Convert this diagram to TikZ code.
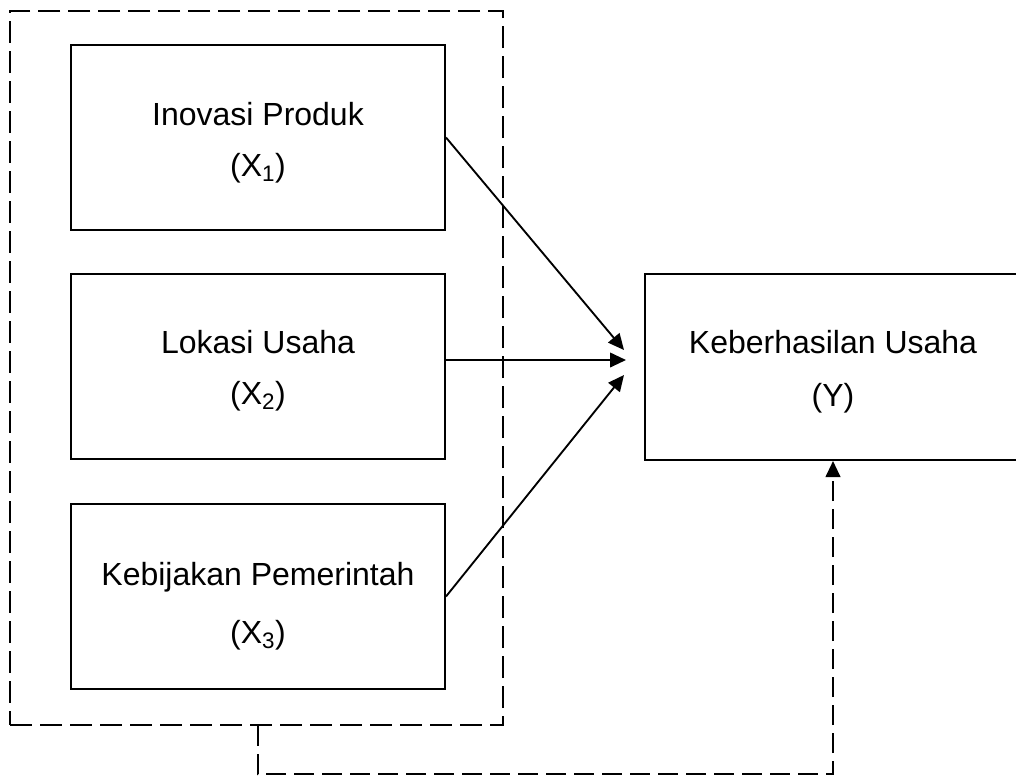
\documentclass[tikz,border=0pt]{standalone}
\usepackage{fontspec}
\setmainfont{Liberation Sans}
\usetikzlibrary{arrows.meta,calc}
\tikzset{
  varbox/.style={draw=black, line width=1.5pt, minimum width=280.5pt, minimum height=138.75pt,
    inner sep=0pt},
  varlabel/.style={align=center, inner sep=0pt, font=\fontsize{24}{#1}\selectfont},
  varlabel/.default=38pt,
  groupbox/.style={draw=black, line width=1.5pt, dash pattern=on 16.5pt off 6pt,
    minimum width=369.75pt, minimum height=535.5pt, inner sep=0pt},
  conn/.style={line width=1.4pt, -{Triangle[length=12pt,width=11pt]}},
  dashconn/.style={line width=1.5pt, dash pattern=on 15pt off 6pt, -{Triangle[length=12pt,width=11pt]}}
}
\begin{document}
\begin{tikzpicture}[x=0.75pt,y=-0.75pt]
\useasboundingbox (0,0) rectangle (1016,776);
\clip (0,0) rectangle (1016,776);
\node[groupbox] (grp) at (256.5,368) {};
\node[varbox] (X1) at (258,137.5) {};
\node[varbox] (X2) at (258,366.5) {};
\node[varbox] (X3) at (258,596.5) {};
\node[varbox, minimum width=282pt, minimum height=139.5pt] (Y) at (833,367) {};
\node[varlabel=38pt] (X1t) at ($(X1.center)+(0,5)$) {Inovasi Produk\\(X\textsubscript{1})};
\node[varlabel=38.5pt] (X2t) at ($(X2.center)+(0,4.5)$) {Lokasi Usaha\\(X\textsubscript{2})};
\node[varlabel=43.5pt] (X3t) at ($(X3.center)+(0,10)$) {Kebijakan Pemerintah\\(X\textsubscript{3})};
\node[varlabel=40pt] (Yt) at ($(Y.center)+(0,5)$) {Keberhasilan Usaha\\(Y)};
\coordinate (t1) at (624,350);
\coordinate (t2) at (626,360);
\coordinate (t3) at (624,375);
\coordinate (s2) at (X2.east |- t2);
\draw[conn] (X1.east) -- (t1);
\draw[conn] (s2) -- (t2);
\draw[conn] (X3.east) -- (t3);
\coordinate (b) at ($(grp.south)+(1.5,48)$);
\draw[dashconn] ($(grp.south)+(1.5,0)$) -- (b) -| (Y.south);
\end{tikzpicture}
\end{document}
